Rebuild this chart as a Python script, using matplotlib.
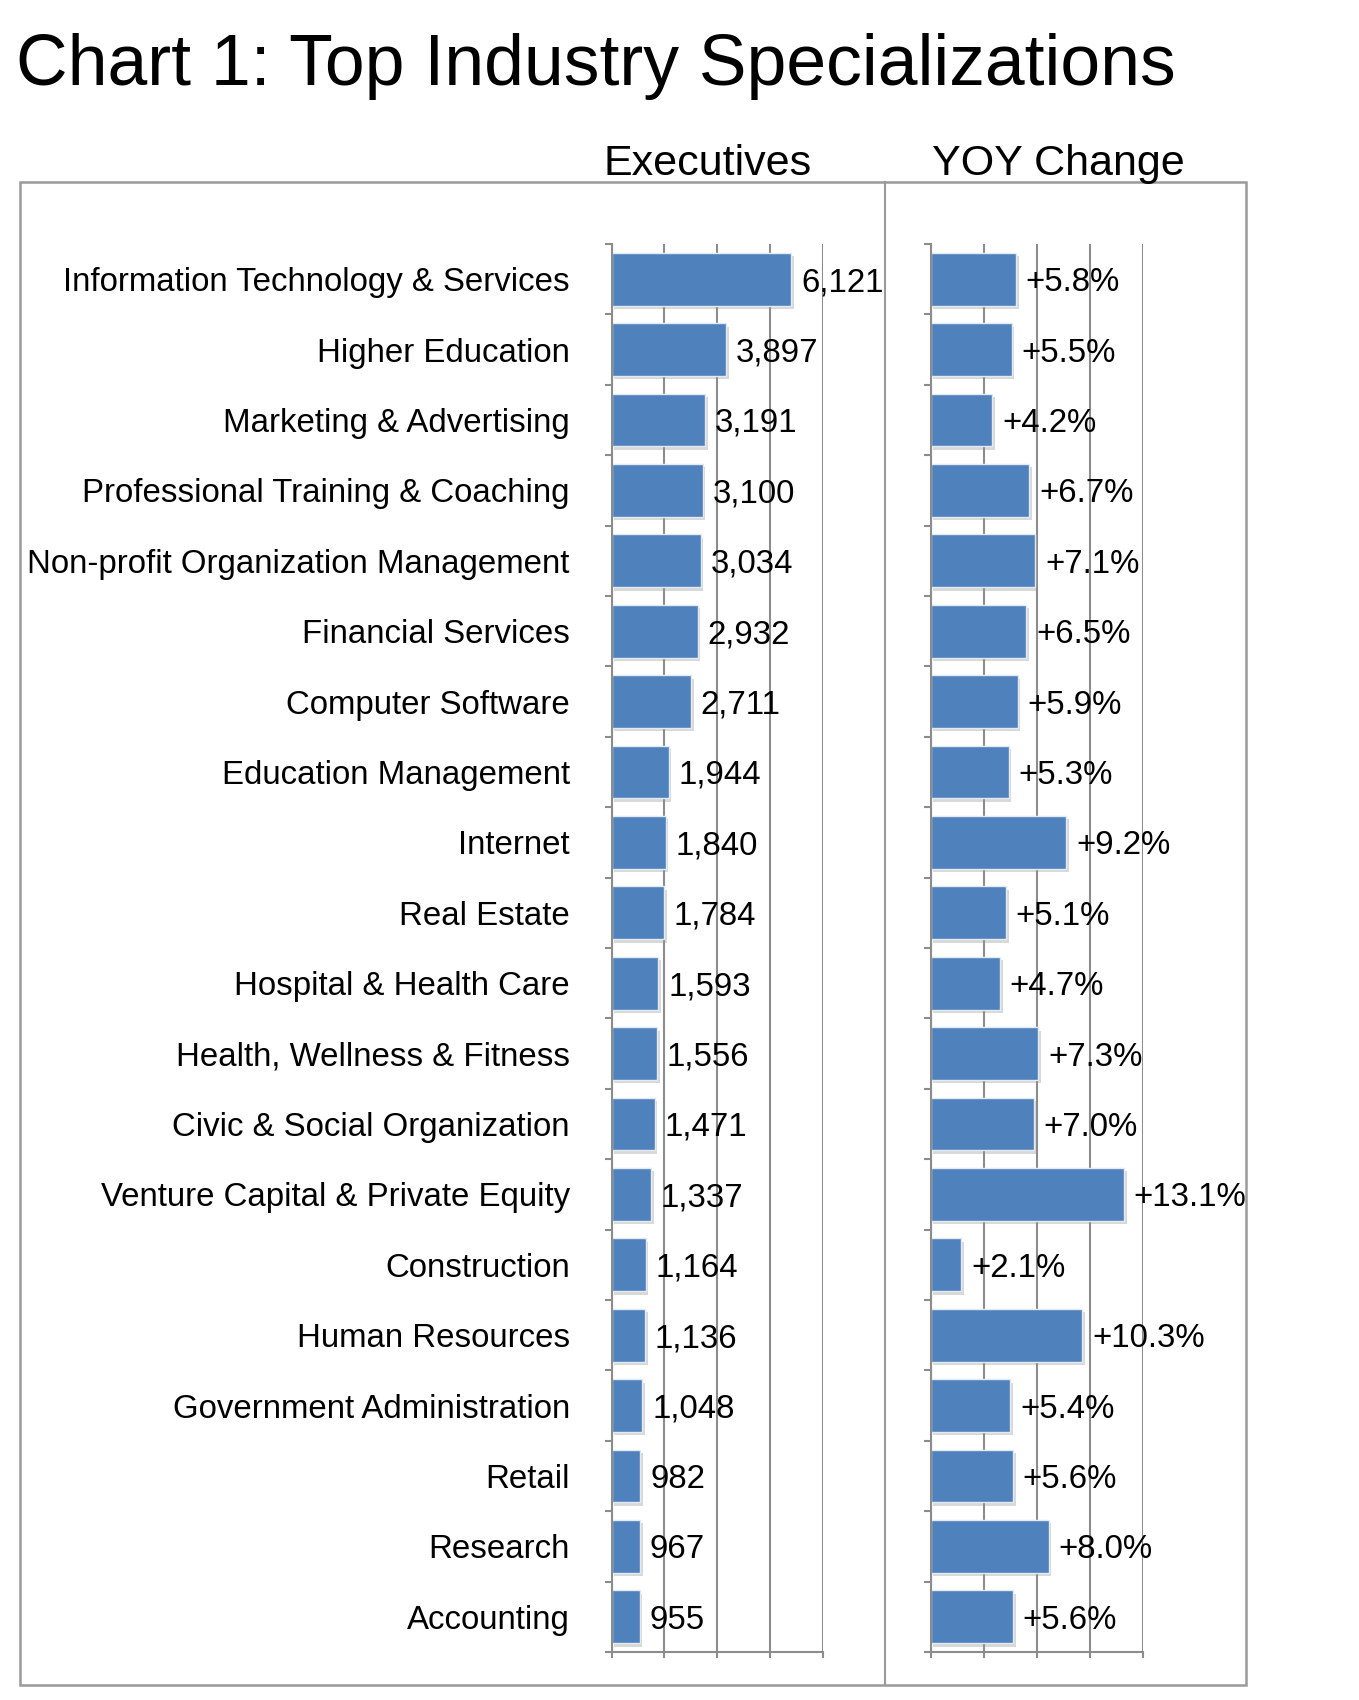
import matplotlib
matplotlib.use('Agg')
import matplotlib.pyplot as plt
import matplotlib.patheffects as pe
from matplotlib.patches import Rectangle
from matplotlib.lines import Line2D

plt.rcParams['font.family'] = ['Liberation Sans', 'DejaVu Sans']

# Data
industries = ['Information Technology & Services', 'Higher Education', 'Marketing & Advertising',
              'Professional Training & Coaching', 'Non-profit Organization Management',
              'Financial Services', 'Computer Software', 'Education Management', 'Internet',
              'Real Estate', 'Hospital & Health Care', 'Health, Wellness & Fitness',
              'Civic & Social Organization', 'Venture Capital & Private Equity', 'Construction',
              'Human Resources', 'Government Administration', 'Retail', 'Research', 'Accounting']
executives = [6121, 3897, 3191, 3100, 3034, 2932, 2711, 1944, 1840, 1784,
              1593, 1556, 1471, 1337, 1164, 1136, 1048, 982, 967, 955]
yoy_change = [5.8, 5.5, 4.2, 6.7, 7.1, 6.5, 5.9, 5.3, 9.2, 5.1,
              4.7, 7.3, 7.0, 13.1, 2.1, 10.3, 5.4, 5.6, 8.0, 5.6]

W, H = 1359, 1700
fig = plt.figure(figsize=(W / 100, H / 100), dpi=100)

bar_color = '#4F81BD'
grid_color = '#8c8c8c'
shadow = [pe.SimplePatchShadow(offset=(2, -2.5), shadow_rgbFace='#909090', alpha=0.35), pe.Normal()]

ax_bottom = (H - 1652) / H
ax_height = (1652 - 244) / H
ax1 = fig.add_axes([611.5 / W, ax_bottom, 211.5 / W, ax_height])
ax2 = fig.add_axes([930.5 / W, ax_bottom, 212.5 / W, ax_height])

pos = list(range(len(industries)))


def style_axis(ax, xmax):
    ax.set_xlim(0, xmax)
    ax.set_ylim(len(industries) - 0.5, -0.5)
    ax.set_xticks([xmax * i / 4 for i in range(5)])
    ax.set_xticklabels([])
    ax.grid(axis='x', color=grid_color, linewidth=1.5)
    ax.set_axisbelow(True)
    for s in ['top', 'right']:
        ax.spines[s].set_visible(False)
    for s in ['left', 'bottom']:
        ax.spines[s].set_color(grid_color)
        ax.spines[s].set_linewidth(1.5)
    ax.tick_params(axis='x', length=4, width=1.5, color=grid_color, direction='out')
    ax.set_yticks([p - 0.5 for p in pos] + [len(pos) - 0.5], minor=True)
    ax.tick_params(axis='y', which='minor', length=5, width=1.5, color=grid_color)
    ax.tick_params(axis='y', which='major', length=0)


style_axis(ax1, 7200)
style_axis(ax2, 14.4)

bars1 = ax1.barh(pos, executives, height=0.75, color=bar_color, edgecolor='#e4eaf3', linewidth=1.0)
bars2 = ax2.barh(pos, yoy_change, height=0.75, color=bar_color, edgecolor='#e4eaf3', linewidth=1.0)
for b in list(bars1) + list(bars2):
    b.set_path_effects(shadow)

ax1.set_yticks(pos)
ax1.set_yticklabels(industries, fontsize=23.8)
ax1.tick_params(axis='y', which='major', pad=30)
ax2.set_yticks(pos)
ax2.set_yticklabels([])

for p, v in zip(pos, executives):
    ax1.annotate(f'{v:,}', (v, p), xytext=(7, -2.5), textcoords='offset points',
                 va='center', ha='left', fontsize=23.8, annotation_clip=False)
for p, v in zip(pos, yoy_change):
    ax2.annotate(f'+{v:.1f}%', (v, p), xytext=(7, -2.5), textcoords='offset points',
                 va='center', ha='left', fontsize=23.8, annotation_clip=False)

# Outer frame and divider
frame_color = '#9a9a9a'
fig.add_artist(Rectangle((20 / W, 15 / H), 1226 / W, 1503 / H, transform=fig.transFigure,
                         fill=False, edgecolor=frame_color, linewidth=1.8))
fig.add_artist(Line2D([885 / W, 885 / W], [15 / H, 1518 / H], transform=fig.transFigure,
                      color=frame_color, linewidth=1.5))

# Titles
fig.text(16 / W, 1 - 85 / H, 'Chart 1: Top Industry Specializations', fontsize=51.5,
         va='baseline', ha='left')
fig.text(708 / W, 1 - 175 / H, 'Executives', fontsize=31, va='baseline', ha='center')
fig.text(1058 / W, 1 - 175 / H, 'YOY Change', fontsize=31, va='baseline', ha='center')

fig.savefig('out.png', dpi=100, facecolor='white')
